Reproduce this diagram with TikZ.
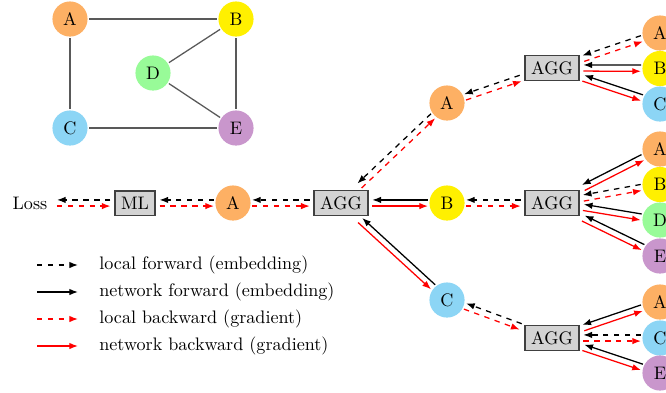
\documentclass[tikz,border=0pt]{standalone}
\usetikzlibrary{calc,arrows.meta}
\definecolor{cA}{HTML}{FDB064}
\definecolor{cB}{HTML}{FFF000}
\definecolor{cC}{HTML}{8CD5F5}
\definecolor{cD}{HTML}{98FB98}
\definecolor{cE}{HTML}{C996CC}
\definecolor{boxgray}{HTML}{D3D3D3}
\tikzset{
  vtx/.style={circle, minimum size=19.4pt, inner sep=0pt, outer sep=0.8pt},
  vA/.style={vtx, fill=cA},
  vB/.style={vtx, fill=cB},
  vC/.style={vtx, fill=cC},
  vD/.style={vtx, fill=cD},
  vE/.style={vtx, fill=cE},
  aggbox/.style={rectangle, draw=black!75, fill=boxgray, line width=0.8pt, outer sep=2.5pt},
  gedge/.style={draw=black!65, line width=0.7pt},
  tipst/.style={-{Latex[length=4.8pt,width=3.6pt]}},
  lfwd/.style={black, dashed, line width=0.7pt, tipst},
  nfwd/.style={black, line width=0.7pt, tipst},
  lbwd/.style={red, dashed, line width=0.7pt, tipst},
  nbwd/.style={red, line width=0.7pt, tipst},
}
% #1 forward style, #2 backward style, #3 parent (left), #4 child (right)
\newcommand{\pairlink}[4]{%
  \draw[#1] let \p1=($(#4)-(#3)$), \n1={atan2(\y1,\x1)}, \n2={\n1+180} in
    ([shift={(\n1+90:1.7pt)}]#4.\n2) -- ([shift={(\n1+90:1.7pt)}]#3.\n1);
  \draw[#2] let \p1=($(#4)-(#3)$), \n1={atan2(\y1,\x1)}, \n2={\n1+180} in
    ([shift={(\n1-90:1.7pt)}]#3.\n1) -- ([shift={(\n1-90:1.7pt)}]#4.\n2);
}
\begin{document}
\begin{tikzpicture}[x=0.552pt, y=-0.552pt]
\clip (0,0) rectangle (666,392);
% small graph
\node[vA] (gA) at (70,19) {A};
\node[vB] (gB) at (236,19) {B};
\node[vD] (gD) at (153,73) {D};
\node[vC] (gC) at (70,128) {C};
\node[vE] (gE) at (236,128) {E};
\draw[gedge] (gA) -- (gB);
\draw[gedge] (gA) -- (gC);
\draw[gedge] (gC) -- (gE);
\draw[gedge] (gB) -- (gE);
\draw[gedge] (gD) -- (gB);
\draw[gedge] (gD) -- (gE);
% computation tree
\node[outer sep=2pt] (loss) at (30,203) {Loss};
\node[aggbox] (ml) at (135,203) {ML};
\node[vA] (a0) at (233,203) {A};
\node[aggbox] (agg0) at (341,203) {AGG};
\node[vA] (a1) at (447,103) {A};
\node[vB] (b1) at (447,203) {B};
\node[vC] (c1) at (447,300) {C};
\node[aggbox] (aggA) at (552,68) {AGG};
\node[aggbox] (aggB) at (552,203) {AGG};
\node[aggbox] (aggC) at (552,338) {AGG};
\node[vA] (ra1) at (660,33) {A};
\node[vB] (ra2) at (660,68.5) {B};
\node[vC] (ra3) at (660,104) {C};
\node[vA] (rb1) at (660,149) {A};
\node[vB] (rb2) at (660,184.5) {B};
\node[vD] (rb3) at (660,220) {D};
\node[vE] (rb4) at (660,256) {E};
\node[vA] (rc1) at (660,302) {A};
\node[vC] (rc2) at (660,338) {C};
\node[vE] (rc3) at (660,373) {E};
\pairlink{lfwd}{lbwd}{loss}{ml}
\pairlink{lfwd}{lbwd}{ml}{a0}
\pairlink{lfwd}{lbwd}{a0}{agg0}
\pairlink{lfwd}{lbwd}{agg0}{a1}
\pairlink{nfwd}{nbwd}{agg0}{b1}
\pairlink{nfwd}{nbwd}{agg0}{c1}
\pairlink{lfwd}{lbwd}{a1}{aggA}
\pairlink{lfwd}{lbwd}{b1}{aggB}
\pairlink{lfwd}{lbwd}{c1}{aggC}
\pairlink{lfwd}{lbwd}{aggA}{ra1}
\pairlink{nfwd}{nbwd}{aggA}{ra2}
\pairlink{nfwd}{nbwd}{aggA}{ra3}
\pairlink{nfwd}{nbwd}{aggB}{rb1}
\pairlink{lfwd}{lbwd}{aggB}{rb2}
\pairlink{nfwd}{nbwd}{aggB}{rb3}
\pairlink{nfwd}{nbwd}{aggB}{rb4}
\pairlink{nfwd}{nbwd}{aggC}{rc1}
\pairlink{lfwd}{lbwd}{aggC}{rc2}
\pairlink{nfwd}{nbwd}{aggC}{rc3}
% legend
\coordinate (l1s) at (37,265); \coordinate (l1e) at (78,265);
\coordinate (l2s) at (37,292); \coordinate (l2e) at (78,292);
\coordinate (l3s) at (37,319); \coordinate (l3e) at (78,319);
\coordinate (l4s) at (37,346); \coordinate (l4e) at (78,346);
\draw[lfwd] (l1s) -- (l1e);
\draw[nfwd] (l2s) -- (l2e);
\draw[lbwd] (l3s) -- (l3e);
\draw[nbwd] (l4s) -- (l4e);
\node[anchor=west, inner sep=0pt] (t1) at (99,265) {local forward (embedding)};
\node[anchor=west, inner sep=0pt] (t2) at (99,292) {network forward (embedding)};
\node[anchor=west, inner sep=0pt] (t3) at (99,319) {local backward (gradient)};
\node[anchor=west, inner sep=0pt] (t4) at (99,346) {network backward (gradient)};
\end{tikzpicture}
\end{document}
